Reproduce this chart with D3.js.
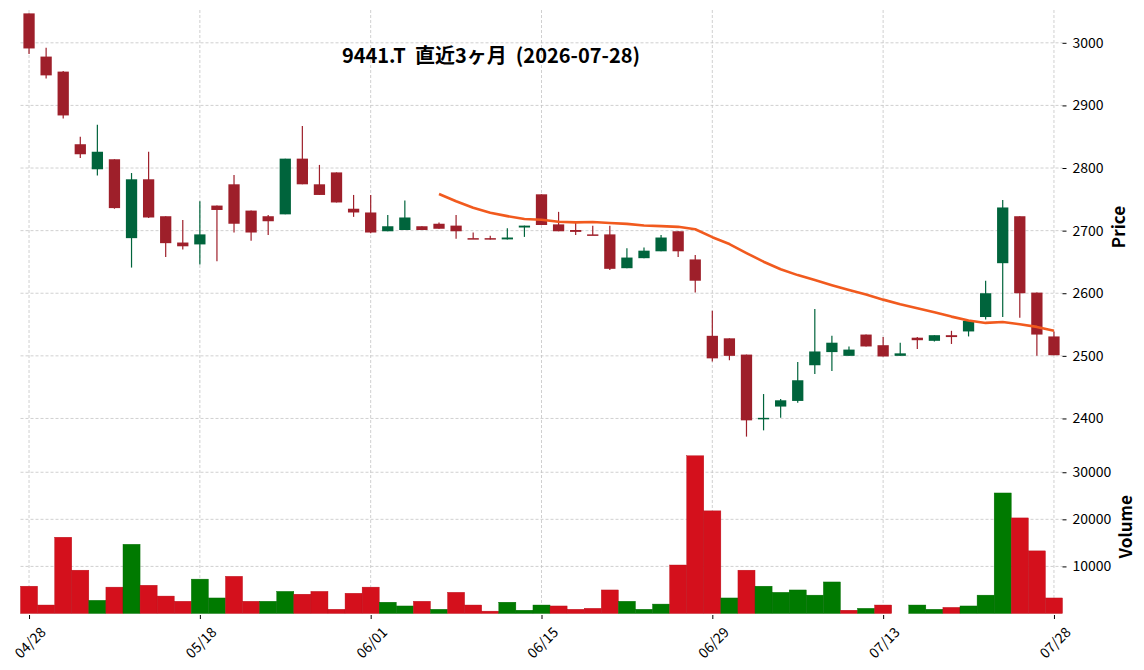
<!DOCTYPE html>
<html>
<head>
<meta charset="utf-8">
<script src="https://cdn.jsdelivr.net/npm/d3@7"></script>
<style>
  body { margin: 0; background: #fff; }
  text { font-family: "Noto Sans CJK JP", "Noto Sans", sans-serif; fill: #000; }
</style>
</head>
<body>
<div id="chart-container"></div>
<script>
var titleText = '9441.T  直近3ヶ月  (2026-07-28)';

var dates = ['04/28','04/30','05/01','05/07','05/08','05/11','05/12','05/13','05/14','05/15',
             '05/18','05/19','05/20','05/21','05/22','05/25','05/26','05/27','05/28','05/29',
             '06/01','06/02','06/03','06/04','06/05','06/08','06/09','06/10','06/11','06/12',
             '06/15','06/16','06/17','06/18','06/19','06/22','06/23','06/24','06/25','06/26',
             '06/29','06/30','07/01','07/02','07/03','07/06','07/07','07/08','07/09','07/10',
             '07/13','07/14','07/15','07/16','07/17','07/21','07/22','07/23','07/24','07/27','07/28'];

var opens  = [3047,2978,2954,2838,2798,2814,2688,2782,2723,2681,
              2678,2740,2774,2732,2723,2726,2815,2774,2793,2735,
              2729,2699,2701,2707,2711,2708,2688,2688,2686,2705,
              2758,2710,2701,2694,2694,2640,2656,2667,2699,2654,
              2532,2528,2502,2399,2419,2428,2485,2506,2500,2534,
              2517,2500,2529,2524,2533,2539,2562,2648,2723,2601,2531];
var highs  = [3047,2992,2955,2850,2869,2814,2792,2826,2723,2717,
              2747,2740,2789,2732,2725,2815,2867,2805,2793,2757,
              2757,2725,2748,2707,2713,2725,2697,2692,2704,2708,
              2758,2730,2712,2708,2708,2672,2673,2693,2699,2661,
              2572,2528,2502,2439,2431,2490,2575,2532,2515,2534,
              2530,2521,2530,2533,2540,2557,2620,2749,2723,2601,2539];
var lows   = [2982,2943,2879,2816,2788,2735,2641,2720,2658,2670,
              2646,2651,2697,2684,2693,2726,2774,2757,2745,2722,
              2696,2699,2701,2701,2703,2687,2687,2686,2686,2690,
              2709,2699,2693,2693,2637,2640,2656,2667,2658,2601,
              2491,2493,2371,2381,2401,2425,2471,2476,2500,2515,
              2499,2500,2511,2523,2519,2531,2558,2562,2561,2500,2501];
var closes = [2991,2948,2884,2822,2826,2736,2782,2721,2680,2675,
              2694,2733,2711,2697,2715,2815,2774,2757,2745,2729,
              2697,2707,2721,2701,2703,2699,2687,2686,2689,2708,
              2709,2699,2698,2693,2639,2657,2668,2689,2667,2620,
              2496,2500,2397,2401,2429,2461,2507,2521,2510,2515,
              2499,2504,2525,2533,2530,2556,2600,2737,2600,2534,2501];
var volumes = [5800,1800,16200,9200,2800,5600,14700,6000,3700,2600,
               7300,3300,7900,2600,2600,4700,4100,4700,900,4300,
               5600,2400,1600,2600,900,4500,1800,500,2400,700,
               1800,1600,900,1100,5000,2600,900,2000,10300,33500,
               21800,3300,9200,5800,4500,5000,3900,6700,700,1100,
               1800,0,1800,900,1300,1600,3900,25600,20300,13300,3300];

var tickDates = ['04/28','05/18','06/01','06/15','06/29','07/13','07/28'];
var priceTicks = [2400, 2500, 2600, 2700, 2800, 2900, 3000];
var volumeTicks = [10000, 20000, 30000];
var maWindow = 25;

var chart = {
  colors: {
    candleUp: '#00643c',
    candleDown: '#9e1f2a',
    volUp: '#007a00',
    volDown: '#d4101c',
    ma: '#f15a1e',
    grid: '#c4c4c4'
  }
};

chart.render = function() {

  d3.select('#chart-container').text('');

  var svgWidth = 1144,
      svgHeight = 670,
      svg = d3.select('#chart-container').append('svg').attr('width', svgWidth).attr('height', svgHeight),
      left = 20.5, right = 1062.5,
      priceTop = 10, priceBottom = 440,
      volTop = 440, volBottom = 613.5,
      c = this.colors,
      n = dates.length;

  var x = d3.scaleLinear().domain([-0.5, n - 0.5]).range([left, right]);
  var step = x(1) - x(0);

  var lo = d3.min(lows), hi = d3.max(highs), pad = (hi - lo) * 0.008;
  var y = d3.scaleLinear().domain([lo - pad, hi + pad]).range([priceBottom, priceTop]);
  var yv = d3.scaleLinear().domain([0, d3.max(volumes) * 1.1]).range([volBottom, volTop]);

  var gridG = svg.append('g')
    .attr('stroke', c.grid)
    .attr('stroke-width', 0.8)
    .attr('stroke-dasharray', '3,2')
    .attr('fill', 'none');

  var tickIdx = tickDates.map(function(d) { return dates.indexOf(d); });

  gridG.selectAll('.vgrid').data(tickIdx).enter().append('line')
    .attr('x1', function(d) { return x(d); }).attr('x2', function(d) { return x(d); })
    .attr('y1', priceTop).attr('y2', volBottom);

  gridG.selectAll('.pgrid').data(priceTicks).enter().append('line')
    .attr('x1', left).attr('x2', right)
    .attr('y1', function(d) { return y(d); }).attr('y2', function(d) { return y(d); });

  gridG.selectAll('.vgrid2').data(volumeTicks).enter().append('line')
    .attr('x1', left).attr('x2', right)
    .attr('y1', function(d) { return yv(d); }).attr('y2', function(d) { return yv(d); });

  // candles
  var idx = d3.range(n);
  var bodyW = step * 0.66;

  var candles = svg.append('g').selectAll('g').data(idx).enter().append('g');

  candles.append('line')
    .attr('x1', function(i) { return x(i); }).attr('x2', function(i) { return x(i); })
    .attr('y1', function(i) { return y(highs[i]); })
    .attr('y2', function(i) { return y(lows[i]); })
    .attr('stroke', function(i) { return closes[i] >= opens[i] ? c.candleUp : c.candleDown; })
    .attr('stroke-width', 1.2);

  candles.append('rect')
    .attr('x', function(i) { return x(i) - bodyW / 2; })
    .attr('width', bodyW)
    .attr('y', function(i) { return y(Math.max(opens[i], closes[i])); })
    .attr('height', function(i) { return Math.max(1.5, Math.abs(y(opens[i]) - y(closes[i]))); })
    .attr('fill', function(i) { return closes[i] >= opens[i] ? c.candleUp : c.candleDown; });

  // moving average
  var ma = idx.filter(function(i) { return i >= maWindow - 1; }).map(function(i) {
    return { i: i, v: d3.mean(closes.slice(i - maWindow + 1, i + 1)) };
  });

  var line = d3.line()
    .x(function(d) { return x(d.i); })
    .y(function(d) { return y(d.v); });

  svg.append('path')
    .datum(ma)
    .attr('fill', 'none')
    .attr('stroke', c.ma)
    .attr('stroke-width', 2.6)
    .attr('stroke-linejoin', 'round')
    .attr('d', line);

  // volume
  function volUp(i) {
    return i === 0 ? closes[i] >= opens[i] : closes[i] >= closes[i - 1];
  }

  svg.append('g').selectAll('rect').data(idx).enter().append('rect')
    .attr('x', function(i) { return x(i) - step / 2; })
    .attr('width', step)
    .attr('y', function(i) { return yv(volumes[i]); })
    .attr('height', function(i) { return yv(0) - yv(volumes[i]); })
    .attr('fill', function(i) { return volUp(i) ? c.volUp : c.volDown; })
    .attr('stroke', function(i) { return volUp(i) ? '#006a00' : '#b80e18'; })
    .attr('stroke-width', 0.4);

  // right axes
  var axisP = svg.append('g')
    .attr('transform', 'translate(' + right + ',0)')
    .call(d3.axisRight(y).tickValues(priceTicks).tickSize(4).tickPadding(6).tickFormat(d3.format('d')));
  var axisV = svg.append('g')
    .attr('transform', 'translate(' + right + ',0)')
    .call(d3.axisRight(yv).tickValues(volumeTicks).tickSize(4).tickPadding(6).tickFormat(d3.format('d')));

  [axisP, axisV].forEach(function(a) {
    a.select('.domain').remove();
    a.selectAll('text').attr('font-size', 14).attr('font-family', '"Noto Sans CJK JP", sans-serif');
    a.selectAll('line').attr('stroke', '#000').attr('stroke-width', 1);
  });

  // bottom axis
  var axisX = svg.append('g')
    .attr('transform', 'translate(0,' + (volBottom + 1.5) + ')')
    .call(d3.axisBottom(x).tickValues(tickIdx).tickSize(4).tickFormat(function(i) { return dates[i]; }));
  axisX.select('.domain').remove();
  axisX.selectAll('line').attr('stroke', '#000');
  axisX.selectAll('text')
    .attr('font-size', 14)
    .attr('font-family', '"Noto Sans CJK JP", sans-serif')
    .attr('text-anchor', 'middle')
    .attr('dy', null)
    .attr('y', null)
    .attr('dominant-baseline', 'central')
    .attr('transform', 'translate(0,27) rotate(-45)');

  svg.append('text')
    .attr('transform', 'translate(1125,227) rotate(-90)')
    .attr('text-anchor', 'middle')
    .attr('font-size', 17)
    .attr('font-weight', 'bold')
    .text('Price');

  svg.append('text')
    .attr('transform', 'translate(1132,' + ((volTop + volBottom) / 2) + ') rotate(-90)')
    .attr('text-anchor', 'middle')
    .attr('font-size', 17)
    .attr('font-weight', 'bold')
    .text('Volume');

  svg.append('text')
    .attr('x', 491)
    .attr('y', 63)
    .attr('text-anchor', 'middle')
    .attr('font-size', 20)
    .attr('font-weight', 'bold')
    .style('white-space', 'pre')
    .text(titleText);
};

chart.render();
</script>
</body>
</html>
